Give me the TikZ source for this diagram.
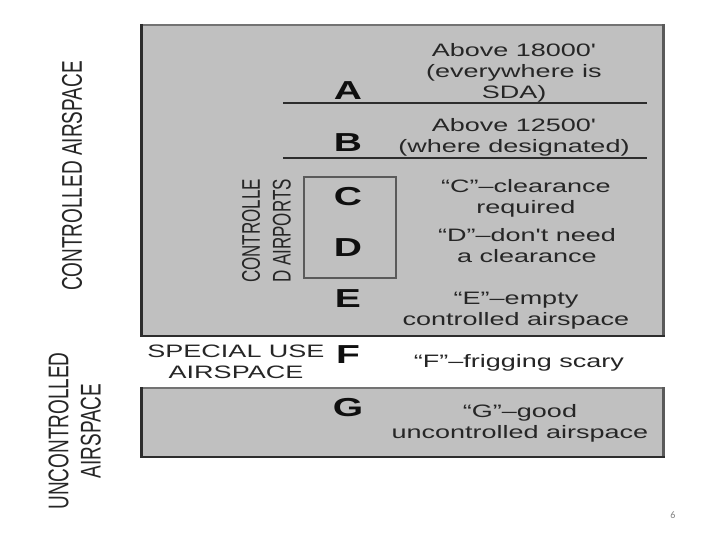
\documentclass[tikz,border=0pt]{standalone}
\usepackage{graphicx}
\usepackage{fontspec}
\setmainfont{Liberation Sans}[Ligatures=TeXOff]
\newfontfamily\pagefont{Carlito}
\definecolor{boxfill}{RGB}{192,192,192}
\definecolor{edgedark}{RGB}{45,45,45}
\definecolor{edgegray}{RGB}{115,115,115}
\definecolor{edgemid}{RGB}{90,90,90}
\definecolor{txt}{RGB}{38,38,38}
\definecolor{lettercol}{RGB}{15,15,15}
\newcommand{\wideln}[1]{\scalebox{1.5}[1]{\begin{tabular}{@{}c@{}}#1\end{tabular}}}
\newcommand{\wideup}[1]{\rotatebox{90}{\scalebox{1}[1.5]{\begin{tabular}{@{}c@{}}#1\end{tabular}}}}
\tikzset{
  desc/.style={inner sep=0pt, text=txt, font=\fontsize{18}{21}\selectfont},
  classletter/.style={inner sep=0pt, text=lettercol, font=\fontsize{26}{30}\selectfont\bfseries},
  sidelabel/.style={inner sep=0pt, text=txt, font=\fontsize{19}{21.5}\selectfont},
  smalllabel/.style={inner sep=0pt, text=txt, font=\fontsize{17}{20.5}\selectfont},
  darkedge/.style={edgedark, line width=2.5pt},
  grayedge/.style={edgegray, line width=2pt},
  sep/.style={edgedark, line width=2pt},
}
\begin{document}
\begin{tikzpicture}[x=1pt,y=-1pt]
\useasboundingbox (0,0) rectangle (720,540);
% controlled airspace box
\coordinate (ctl) at (140,24);
\coordinate (ctr) at (665,24);
\coordinate (cbl) at (140,337);
\coordinate (cbr) at (665,337);
\fill[boxfill] (ctl) rectangle (cbr);
\draw[grayedge] ([yshift=-1pt]ctl) -- ([yshift=-1pt]ctr);
\draw[edgemid, line width=3pt] ([xshift=-1.5pt]ctr) -- ([xshift=-1.5pt]cbr);
\draw[darkedge] ([yshift=1.2pt]cbl) -- ([yshift=1.2pt]cbr);
\draw[darkedge] ([xshift=1.5pt]ctl) -- ([xshift=1.5pt]cbl);
% uncontrolled box
\coordinate (utl) at (140,387);
\coordinate (utr) at (665,387);
\coordinate (ubl) at (140,458);
\coordinate (ubr) at (665,458);
\fill[boxfill] (utl) rectangle (ubr);
\draw[grayedge] ([yshift=-1pt]utl) -- ([yshift=-1pt]utr);
\draw[edgemid, line width=3pt] ([xshift=-1.5pt]utr) -- ([xshift=-1.5pt]ubr);
\draw[darkedge] ([yshift=1.2pt]ubl) -- ([yshift=1.2pt]ubr);
\draw[darkedge] ([xshift=1.5pt]utl) -- ([xshift=1.5pt]ubl);
% separators
\coordinate (s1l) at (283,103);
\coordinate (s1r) at (647,103);
\coordinate (s2l) at (283,158);
\coordinate (s2r) at (647,158);
\draw[sep] (s1l) -- (s1r);
\draw[sep, line width=1.4pt] (s2l) -- (s2r);
% C/D box
\coordinate (cdtl) at (304,177);
\coordinate (cdbr) at (396,278);
\draw[edgemid, line width=2.5pt] (cdtl) rectangle (cdbr);
% letters
\node[classletter] (A) at (348,91) {\scalebox{1.5}[1]{A}};
\node[classletter] (B) at (348,143) {\scalebox{1.5}[1]{B}};
\node[classletter] (C) at (348,197) {\scalebox{1.5}[1]{C}};
\node[classletter] (D) at (348,248) {\scalebox{1.5}[1]{D}};
\node[classletter] (E) at (348,299) {\scalebox{1.5}[1]{E}};
\node[classletter] (F) at (348,355) {\scalebox{1.5}[1]{F}};
\node[classletter] (G) at (348,408) {\scalebox{1.5}[1]{G}};
% descriptions
\node[desc] (Atxt) at (514,73) {\wideln{Above 18000'\\(everywhere is\\SDA)}};
\node[desc] (Btxt) at (514,138) {\wideln{Above 12500'\\(where designated)}};
\node[desc] (Ctxt) at (526,199) {\wideln{“C”–clearance\\required}};
\node[desc] (Dtxt) at (527,248) {\wideln{“D”–don't need\\a clearance}};
\node[desc] (Etxt) at (516,311) {\wideln{“E”–empty\\controlled airspace}};
\node[desc] (Ftxt) at (519,363) {\wideln{“F”–frigging scary}};
\node[desc] (Gtxt) at (520,424) {\wideln{“G”–good\\uncontrolled airspace}};
\node[desc] (sua) at (236,364) {\wideln{SPECIAL USE\\AIRSPACE}};
% side labels
\node[sidelabel] (ctlair) at (72,176) {\rotatebox{90}{\scalebox{1}[1.5]{CONTROLLED AIRSPACE}}};
\node[sidelabel] (unctl) at (78,431) {\wideup{UNCONTROLLED\\AIRSPACE}};
\node[smalllabel] (ctlap) at (269,231) {\wideup{CONTROLLE\\D AIRPORTS}};
% page number
\node[inner sep=0pt, text=gray, font=\pagefont\fontsize{10}{12}\selectfont] (pg) at (673,515) {6};
\end{tikzpicture}
\end{document}
